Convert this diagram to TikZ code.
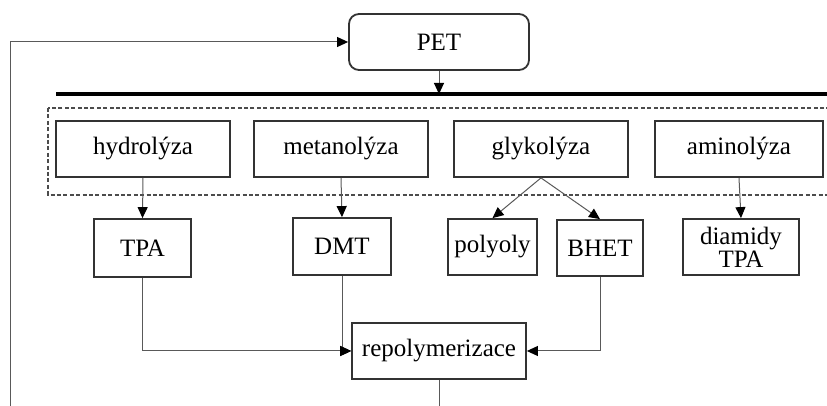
\documentclass[tikz,border=0pt]{standalone}
\usepackage{fontspec}
\setmainfont{Liberation Serif}
\usetikzlibrary{arrows.meta}

\begin{document}
\begin{tikzpicture}[
    x=0.5pt, y=-0.5pt,
    box/.style={rectangle, draw=black!80, line width=0.9pt, inner sep=0pt, align=center, font=\fontsize{12.5}{11.5}\selectfont},
    flow/.style={draw=black!65, line width=0.5pt, -{Triangle[length=5.5pt, width=5pt, color=black]}}
]
    \clip (0,0) rectangle (827,406);

    % source polymer and the feedback loop
    \node[box, rounded corners=5pt, minimum width=90pt, minimum height=28pt] (pet) at (439, 42) {PET};
    \draw[black, line width=2.2pt] (56, 94) -- (840, 94);
    \coordinate (bus) at (439, 94);
    \draw[flow] (pet) -- (bus);

    % group of depolymerisation processes
    \draw[black!70, line width=0.9pt, dash pattern=on 2pt off 1.2pt] (48, 108) rectangle (845, 195);
    \node[box, minimum width=87pt, minimum height=28pt] (hyd) at (143, 149) {hydrolýza};
    \node[box, minimum width=87pt, minimum height=28pt] (met) at (341, 149) {metanolýza};
    \node[box, minimum width=87pt, minimum height=28pt] (gly) at (541, 149) {glykolýza};
    \node[box, minimum width=84pt, minimum height=28pt] (ami) at (739, 149) {aminolýza};

    % products
    \node[box, minimum width=48.5pt, minimum height=29pt] (tpa) at (142.5, 248) {TPA};
    \node[box, minimum width=49pt, minimum height=28.5pt] (dmt) at (342, 246.5) {DMT};
    \node[box, minimum width=44.5pt, minimum height=28pt] (pol) at (492.5, 247) {polyoly};
    \node[box, minimum width=43pt, minimum height=28pt] (bhet) at (600, 248) {BHET};
    \node[box, minimum width=58pt, minimum height=28pt] (dia) at (741, 247) {diamidy\\TPA};

    \node[box, minimum width=87pt, minimum height=28pt] (rep) at (439, 351) {repolymerizace};

    % connectors
    \draw[flow] (hyd.south) -- (tpa.north);
    \draw[flow] (met.south) -- (dmt.north);
    \draw[flow] (gly.south) -- (pol.north);
    \draw[flow] (gly.south) -- (bhet.north);
    \draw[flow] (ami.south) -- (dia.north);
    \draw[flow] (tpa.south) |- (rep.west);
    \draw[flow] (dmt.south) |- (rep.west);
    \draw[flow] (bhet.south) |- (rep.east);

    \coordinate (out) at (439, 410);
    \coordinate (loop) at (10, 410);
    \draw[draw=black!65, line width=0.5pt] (rep.south) -- (out);
    \draw[flow] (loop) |- (pet.west);
\end{tikzpicture}
\end{document}
